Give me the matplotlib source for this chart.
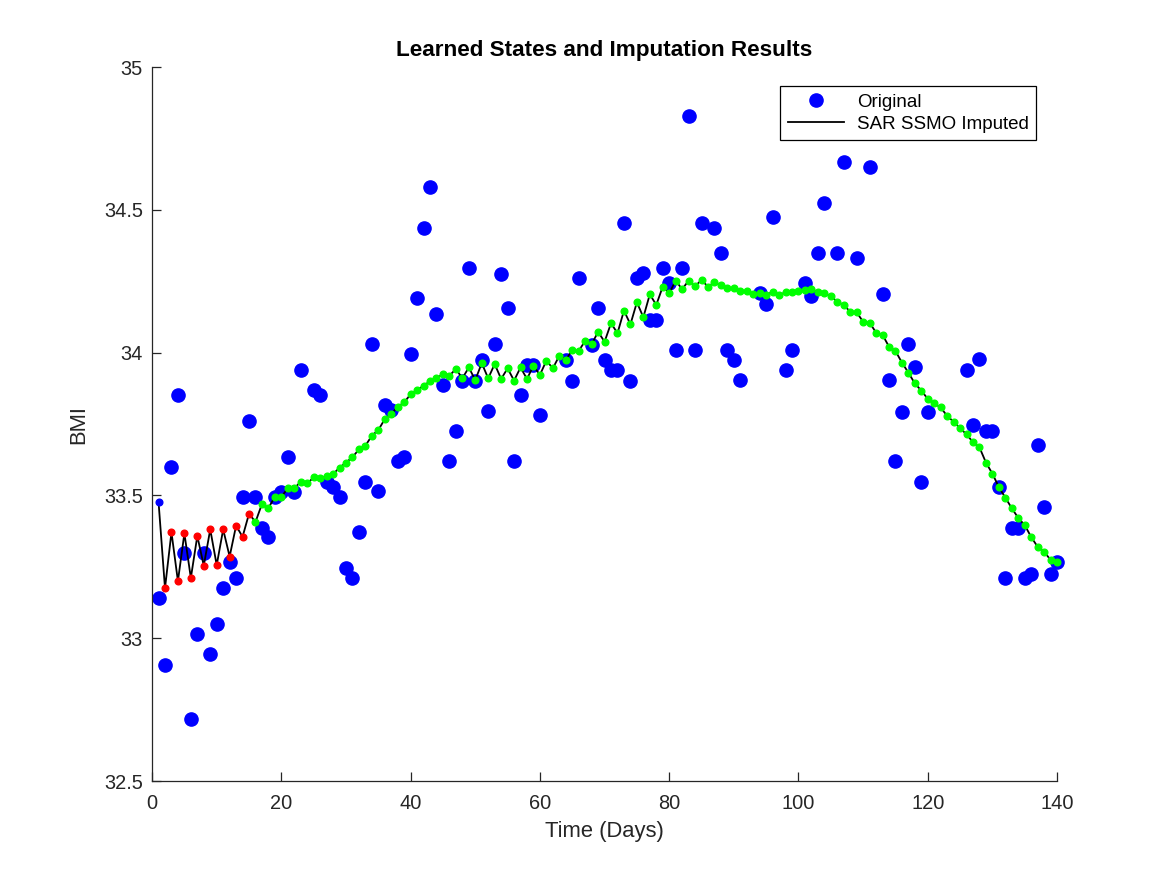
import matplotlib
matplotlib.use('Agg')
import matplotlib.pyplot as plt

plt.rcParams['font.family'] = ['Liberation Sans', 'DejaVu Sans']

# observed BMI (blue dots)
obs_days = [1, 2, 3, 4, 5, 6, 7, 8, 9, 10, 11, 12, 13, 14, 15, 16, 17, 18, 19, 20,
            21, 22, 23, 25, 26, 27, 28, 29, 30, 31, 32, 33, 34, 35, 36, 37, 38, 39, 40,
            41, 42, 43, 44, 45, 46, 47, 48, 49, 50, 51, 52, 53, 54, 55, 56, 57, 58, 59, 60,
            64, 65, 66, 68, 69, 70, 71, 72, 73, 74, 75, 76, 77, 78, 79, 80,
            81, 82, 83, 84, 85, 87, 88, 89, 90, 91, 94, 95, 96, 98, 99,
            101, 102, 103, 104, 106, 107, 109, 111, 113, 114, 115, 116, 117, 118, 119, 120,
            126, 127, 128, 129, 130, 131, 132, 133, 134, 135, 136, 137, 138, 139, 140]
obs_bmi = [33.14, 32.906, 33.598, 33.85, 33.30, 32.717, 33.014, 33.30, 32.944, 33.049,
           33.175, 33.266, 33.21, 33.493, 33.76, 33.493, 33.385, 33.353, 33.493, 33.513,
           33.633, 33.513, 33.94, 33.869, 33.852, 33.548, 33.528, 33.493, 33.245, 33.21,
           33.371, 33.546, 34.03, 33.514, 33.816, 33.80, 33.622, 33.636, 33.995,
           34.19, 34.435, 34.579, 34.134, 33.887, 33.62, 33.725, 33.90, 34.295, 33.90,
           33.974, 33.795, 34.03, 34.274, 34.155, 33.62, 33.85, 33.957, 33.957, 33.78,
           33.974, 33.90, 34.262, 34.027, 34.157, 33.974, 33.939, 33.939, 34.455, 33.90,
           34.26, 34.278, 34.114, 34.114, 34.297, 34.243,
           34.009, 34.297, 34.828, 34.009, 34.455, 34.435, 34.348, 34.009, 33.974, 33.904,
           34.208, 34.169, 34.474, 33.939, 34.009,
           34.243, 34.20, 34.348, 34.523, 34.348, 34.668, 34.33, 34.649, 34.205, 33.904,
           33.62, 33.793, 34.029, 33.951, 33.546, 33.793,
           33.939, 33.746, 33.977, 33.725, 33.725, 33.528, 33.21, 33.385, 33.385, 33.21,
           33.225, 33.676, 33.458, 33.225, 33.268]

# imputed states, one per day
imp_days = list(range(1, 141))
imp_bmi = [33.478, 33.175, 33.371, 33.20, 33.367, 33.211, 33.358, 33.254, 33.381, 33.256,
           33.381, 33.286, 33.394, 33.355, 33.436, 33.407, 33.47, 33.456, 33.495, 33.495,
           33.525, 33.525, 33.548, 33.542, 33.563, 33.56, 33.568, 33.575, 33.597, 33.615,
           33.634, 33.661, 33.674, 33.709, 33.729, 33.767, 33.785, 33.81, 33.826, 33.854,
           33.869, 33.884, 33.90, 33.91, 33.925, 33.919, 33.943, 33.91, 33.948, 33.904,
           33.963, 33.91, 33.96, 33.908, 33.945, 33.902, 33.948, 33.908, 33.954, 33.922,
           33.972, 33.945, 33.989, 33.974, 34.009, 34.006, 34.041, 34.029, 34.073, 34.038,
           34.103, 34.068, 34.147, 34.099, 34.176, 34.124, 34.204, 34.167, 34.231, 34.208,
           34.252, 34.222, 34.252, 34.233, 34.254, 34.231, 34.246, 34.236, 34.225, 34.225,
           34.216, 34.216, 34.204, 34.21, 34.202, 34.213, 34.202, 34.211, 34.213, 34.216,
           34.219, 34.222, 34.213, 34.208, 34.198, 34.178, 34.167, 34.143, 34.141, 34.108,
           34.105, 34.07, 34.062, 34.021, 34.006, 33.965, 33.93, 33.892, 33.867, 33.838,
           33.822, 33.808, 33.778, 33.758, 33.735, 33.714, 33.686, 33.668, 33.615, 33.576,
           33.529, 33.492, 33.455, 33.421, 33.396, 33.354, 33.320, 33.303, 33.274, 33.268]

n_red = 15  # days 2..15 drawn red

fig = plt.figure(figsize=(11.67, 8.75), dpi=100)
ax = fig.add_axes([0.1303, 0.1074, 0.7755, 0.816])

ax.plot(obs_days, obs_bmi, 'o', color='#0000ff', markersize=9.5, label='Original',
        zorder=2, clip_on=False)
ax.plot(imp_days, imp_bmi, '-', color='black', linewidth=1.3, label='SAR SSMO Imputed', zorder=3)
ax.plot(imp_days[:1], imp_bmi[:1], 'o', color='#0000ff', markersize=4.8, zorder=4)
ax.plot(imp_days[1:n_red], imp_bmi[1:n_red], 'o', color='#ff0000', markersize=4.8, zorder=4)
ax.plot(imp_days[n_red:], imp_bmi[n_red:], 'o', color='#00ff00', markersize=4.8, zorder=4,
        clip_on=False)

ax.set_xlim(0, 140)
ax.set_ylim(32.5, 35)
ax.set_xticks([0, 20, 40, 60, 80, 100, 120, 140])
ax.set_yticks([32.5, 33, 33.5, 34, 34.5, 35])
ax.set_yticklabels(['32.5', '33', '33.5', '34', '34.5', '35'])

for s in ['top', 'right']:
    ax.spines[s].set_visible(False)
for s in ['left', 'bottom']:
    ax.spines[s].set_color('#262626')
    ax.spines[s].set_linewidth(0.9)
ax.tick_params(direction='in', length=6.5, width=0.9, colors='#262626', labelsize=14.4)
ax.tick_params(axis='x', pad=9)
ax.tick_params(axis='y', pad=6.5)

ax.set_title('Learned States and Imputation Results', fontsize=16.2, fontweight='bold', pad=8)
ax.set_xlabel('Time (Days)', fontsize=15.8, color='#262626', labelpad=6)
ax.set_ylabel('BMI', fontsize=15.8, color='#262626', labelpad=10.5)

leg = ax.legend(loc='upper right', bbox_to_anchor=(0.977, 0.973), borderaxespad=0,
                fontsize=13.5, fancybox=False, framealpha=1, edgecolor='black',
                handlelength=3.0, handletextpad=0.7, borderpad=0.4, labelspacing=0.25)
leg.get_frame().set_linewidth(0.9)

fig.savefig('out.png', dpi=100)
